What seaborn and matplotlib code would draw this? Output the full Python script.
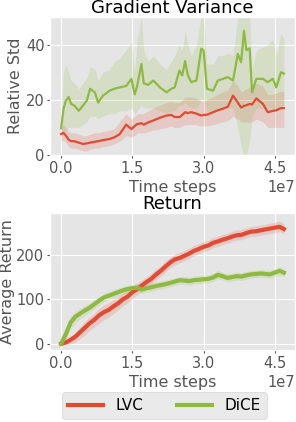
import matplotlib
matplotlib.use("Agg")
import matplotlib.pyplot as plt
import numpy as np
import seaborn as sns

plt.style.use("ggplot")
plt.rcParams["font.family"] = ["DejaVu Sans"]

RED = "#E24A33"
GREEN = "#8EBA42"

# gradient variance panel (time steps in units of 1e7)
var_steps = [0.0, 0.05, 0.1, 0.16, 0.21, 0.28, 0.37, 0.46, 0.54, 0.61,
             0.71, 0.78, 0.88, 1.02, 1.12, 1.23, 1.37, 1.48, 1.55, 1.6,
             1.69, 1.74, 1.83, 1.94, 2.08, 2.22, 2.32, 2.39, 2.49, 2.55,
             2.61, 2.67, 2.74, 2.85, 2.95, 3.0, 3.07, 3.2, 3.3, 3.41,
             3.51, 3.62, 3.72, 3.79, 3.85, 3.9, 3.97, 4.02, 4.11, 4.25,
             4.35, 4.46, 4.53, 4.63, 4.69]
dice_std = [9.7, 16.7, 19.7, 21, 18.5, 17.9, 16, 17.9, 19.7, 24,
            22.7, 19, 21.5, 23.3, 24, 24.5, 25, 27.6, 22, 25,
            33, 26, 25.4, 27, 24.5, 22.7, 24, 24.5, 30.6, 28.8,
            34, 28.8, 26.4, 27, 38.5, 37.9, 24, 23.3, 27, 27.6,
            28.2, 27, 36.6, 33.6, 45, 38, 38.6, 22.7, 27.6, 27.6,
            26.4, 27.6, 24.5, 30, 29.5]
dice_std_lo = [7, 8, 9, 10, 10, 10, 10, 11, 12, 14,
               14, 13, 14, 15, 15, 16, 16, 17, 15, 16,
               18, 17, 17, 17, 16, 15, 16, 16, 18, 18,
               19, 18, 17, 17, 20, 20, 16, 16, 17, 17,
               17, 17, 10, 3, 0, 0, 5, 14, 17, 17,
               17, 17, 16, 18, 18]
dice_std_hi = [12, 30, 33, 30, 27, 26, 24, 26, 28, 32,
               31, 27, 30, 31, 34, 35, 38, 41, 30, 42,
               50, 38, 34, 36, 33, 31, 34, 36, 40, 38,
               45, 40, 36, 40, 50, 50, 33, 33, 36, 36,
               37, 36, 50, 50, 50, 50, 50, 31, 38, 39,
               40, 42, 36, 44, 42]
lvc_std = [7.6, 8, 7, 5.5, 5, 5, 4.5, 4, 4.2, 4.5,
           4.8, 5, 5.4, 5.8, 6.4, 7.5, 11, 9.4, 10.5, 11.2,
           11.5, 11, 11.8, 12.5, 13.5, 14.3, 14.5, 13.8, 13.7, 14.5,
           15.5, 15.2, 15.5, 15, 14.3, 14.5, 14.6, 15.5, 16.2, 16.8,
           17.5, 21.5, 19, 17.2, 17.8, 18, 18.5, 18.3, 20.5, 18.5,
           15.5, 16, 16.2, 17, 17]
lvc_std_lo = [5, 5.5, 4.5, 3, 2.5, 2.5, 2, 1.5, 1.5, 2,
              2.5, 2.5, 3, 3.5, 4, 5, 7, 6.5, 7, 8,
              8, 8, 8.5, 9, 9.5, 10, 10.5, 10, 10, 10.5,
              11, 11, 11, 11, 10.5, 10.5, 10.5, 11, 11.5, 12,
              12.5, 14, 13, 12, 12, 12, 12, 12, 13, 12,
              10, 10, 10, 10, 10]
lvc_std_hi = [10, 11, 10, 8.5, 8, 8, 7.5, 7, 7, 7.5,
              8, 8, 8.5, 9, 9.5, 12, 15, 13, 14, 15,
              15, 15, 16, 17, 18, 19, 19.5, 19, 19, 20,
              21, 21, 21, 20.5, 19.5, 19.5, 20, 21, 22, 23,
              23.5, 27, 25, 23, 23.5, 24, 24.5, 24.5, 26, 25,
              22, 22, 22.5, 23, 23]

# return panel
ret_steps = [0.0, 0.1, 0.2, 0.3, 0.4, 0.5, 0.6, 0.7, 0.8, 0.9,
             1.0, 1.1, 1.2, 1.3, 1.4, 1.5, 1.6, 1.7, 1.8, 1.9,
             2.0, 2.1, 2.2, 2.3, 2.4, 2.5, 2.6, 2.7, 2.8, 2.9,
             3.0, 3.1, 3.2, 3.3, 3.4, 3.5, 3.6, 3.7, 3.8, 3.9,
             4.0, 4.1, 4.2, 4.3, 4.4, 4.5, 4.6, 4.69]
lvc_ret = [0, 3, 9, 16, 26, 36, 46, 54, 64, 71,
           76, 84, 91, 100, 106, 116, 123, 131, 139, 146,
           156, 164, 174, 183, 190, 193, 198, 203, 209, 213,
           218, 221, 227, 230, 234, 237, 241, 244, 245, 249,
           252, 253, 255, 257, 259, 261, 263, 258]
lvc_ret_lo = [0, -2, 0, 4, 12, 20, 30, 38, 47, 54,
              60, 68, 76, 85, 92, 102, 110, 119, 127, 134,
              144, 152, 162, 171, 178, 182, 187, 192, 198, 202,
              207, 210, 216, 219, 223, 226, 230, 233, 234, 238,
              241, 242, 244, 246, 248, 250, 252, 248]
lvc_ret_hi = [0, 8, 16, 26, 38, 50, 60, 69, 80, 87,
              92, 99, 106, 114, 120, 130, 136, 143, 151, 158,
              168, 176, 186, 195, 202, 205, 210, 215, 221, 225,
              230, 233, 239, 242, 246, 249, 253, 256, 257, 261,
              264, 265, 267, 269, 271, 273, 276, 270]
dice_ret = [0, 22, 48, 61, 68, 75, 81, 89, 97, 104,
            108, 112, 116, 120, 123, 125, 126, 122, 125, 127,
            130, 132, 134, 137, 140, 143, 142, 141, 143, 144,
            145, 146, 149, 155, 152, 148, 150, 152, 151, 154,
            156, 157, 158, 157, 156, 160, 164, 160]
dice_ret_lo = [0, 10, 34, 48, 56, 64, 71, 79, 87, 95,
               99, 103, 107, 111, 114, 116, 117, 113, 116, 118,
               121, 123, 125, 128, 131, 134, 133, 132, 134, 135,
               136, 137, 140, 145, 143, 139, 141, 143, 142, 145,
               147, 148, 149, 148, 147, 151, 154, 151]
dice_ret_hi = [0, 34, 62, 74, 80, 86, 91, 99, 107, 113,
               117, 121, 125, 129, 132, 134, 135, 131, 134, 136,
               139, 141, 143, 146, 149, 152, 151, 150, 152, 153,
               154, 155, 158, 165, 161, 157, 159, 161, 160, 163,
               165, 166, 167, 166, 165, 169, 174, 169]


def draw(ax, steps, series, title, ylabel, lw, label_x):
    x = np.array(steps) * 1e7
    for name, mean, lo, hi, color in series:
        ax.fill_between(x, lo, hi, color=color, alpha=0.18, lw=0)
        sns.lineplot(x=x, y=mean, ax=ax, color=color, lw=lw, label=name,
                     legend=False)
    ax.set_title(title, fontsize=13, color="black", pad=2)
    ax.set_xlabel("Time steps", fontsize=11.5, labelpad=3)
    ax.set_ylabel(ylabel, fontsize=11.5)
    ax.yaxis.set_label_coords(label_x, 0.5)
    ax.set_xticks([0, 1.5e7, 3.0e7, 4.5e7])
    ax.ticklabel_format(style="sci", axis="x", scilimits=(0, 0))
    ax.tick_params(labelsize=10.5, length=2, pad=2)
    ax.xaxis.get_offset_text().set_fontsize(10.5)
    ax.xaxis.get_offset_text().set_color("#555555")


fig = plt.figure(figsize=(2.96, 4.22), dpi=100)
ax1 = fig.add_axes([50 / 296, 267 / 422, 245 / 296, 138 / 422])
ax2 = fig.add_axes([50 / 296, 72 / 422, 245 / 296, 137 / 422])

draw(ax1, var_steps,
     [("LVC", lvc_std, lvc_std_lo, lvc_std_hi, RED),
      ("DiCE", dice_std, dice_std_lo, dice_std_hi, GREEN)],
     "Gradient Variance", "Relative Std", 1.6, -0.109)
ax1.set_ylim(0, 50)
ax1.set_yticks([0, 20, 40])

draw(ax2, ret_steps,
     [("LVC", lvc_ret, lvc_ret_lo, lvc_ret_hi, RED),
      ("DiCE", dice_ret, dice_ret_lo, dice_ret_hi, GREEN)],
     "Return", "Average Return", 3, -0.143)
ax2.set_ylim(-14, 294)
ax2.set_yticks([0, 100, 200])

handles, labels = ax2.get_legend_handles_labels()
fig.legend(handles, labels, loc="center", bbox_to_anchor=(0.556, 0.039),
           ncol=2, fontsize=11, handlelength=2.3, columnspacing=2.2,
           frameon=True)

fig.savefig("out.png", dpi=100)
